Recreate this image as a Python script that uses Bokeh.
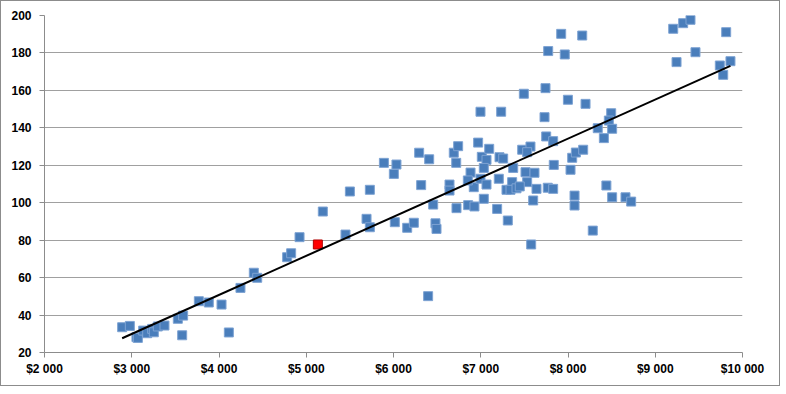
from bokeh.plotting import figure
from bokeh.models import Range1d, FixedTicker, CustomJSTickFormatter, ColumnDataSource
from bokeh.embed import file_html
from bokeh.resources import INLINE

# Income (x, $) and value (y)
income = [2890, 2978, 3054, 3070, 3131, 3177, 3234, 3253, 3299, 3375,
          3528, 3589, 3578, 3769, 3883, 4029, 4113, 4246, 4399, 4438,
          4781, 4827, 4923, 5190, 5450, 5500, 5691, 5729, 5729, 5890,
          6004, 6034, 6015, 6157, 6233, 6294, 6317, 6409, 6397, 6455,
          6481, 6493, 6642, 6642, 6691, 6741, 6719, 6722, 6856, 6928,
          6883, 6920, 6970, 7012, 7742, 7494, 7999, 6997, 7234, 7731,
          7750, 7830, 7097, 7066, 7035, 6852, 6997, 7066, 7207, 7215,
          7257, 7372, 7475, 7570, 7532, 7513, 7616, 7837, 7532, 7295,
          7360, 7341, 7410, 7447, 7639, 7768, 7830, 7601, 7035, 7188,
          7310, 7578, 8029, 8048, 8090, 8075, 8075, 8201, 8495, 8468,
          8341, 8506, 8411, 8174, 8440, 8506, 8659, 8724, 8284, 9244,
          9740, 9779, 9862, 9206, 9320, 9404, 9813, 9461, 7922, 8163,
          7773, 7963]
value = [33.5, 34.2, 28.2, 27.8, 31.7, 30.3, 32.6, 30.8, 33.9, 34.4,
         38.0, 39.7, 29.2, 47.4, 46.7, 45.6, 30.7, 54.5, 62.6, 59.9,
         70.9, 73.0, 81.6, 95.3, 83.0, 106.0, 91.4, 86.9, 106.9, 121.3,
         115.4, 120.4, 89.6, 86.6, 89.3, 126.7, 109.4, 123.2, 50.1, 99.0,
         89.0, 86.0, 109.7, 106.5, 126.7, 130.2, 121.3, 97.1, 98.7, 98.0,
         116.1, 108.3, 132.1, 124.5, 161.2, 158.2, 155.0, 148.6, 148.6, 145.7,
         135.4, 132.9, 128.8, 122.9, 118.6, 111.9, 112.8, 109.7, 112.8, 124.3,
         123.6, 118.6, 128.3, 130.0, 127.0, 116.3, 116.0, 120.2, 111.0, 106.9,
         111.0, 106.9, 107.7, 108.7, 107.4, 108.0, 107.4, 101.2, 102.1, 96.7,
         90.5, 77.7, 117.6, 124.0, 126.8, 103.8, 98.5, 152.8, 147.8, 143.9,
         139.8, 139.5, 134.5, 128.3, 109.2, 102.9, 102.9, 100.6, 85.1, 175.1,
         173.3, 168.3, 175.6, 192.9, 195.9, 197.7, 191.1, 180.4, 190.2, 189.3,
         181.0, 179.2]

highlight_income = [5133]
highlight_value = [77.7]

trend_income = [2890, 9862]
trend_value = [27.6, 173.1]

x_ticks = [2000, 3000, 4000, 5000, 6000, 7000, 8000, 9000, 10000]
y_ticks = [20, 40, 60, 80, 100, 120, 140, 160, 180, 200]

p = figure(width=780, height=386, output_backend="svg", toolbar_location=None,
           x_range=Range1d(2000, 10000), y_range=Range1d(20, 200),
           min_border_left=43, min_border_right=39, min_border_top=14,
           min_border_bottom=35)
p.styles = {"border": "1px solid #8c8c8c"}
p.outline_line_color = None
p.background_fill_color = "white"
p.border_fill_color = "white"

p.xgrid.grid_line_color = None
p.ygrid.grid_line_color = "#a0a0a0"
p.ygrid.grid_line_width = 1

for ax in (p.xaxis[0], p.yaxis[0]):
    ax.axis_line_color = "#8c8c8c"
    ax.major_tick_line_color = "#8c8c8c"
    ax.minor_tick_line_color = None
    ax.major_tick_in = 0
    ax.major_tick_out = 5
    ax.major_label_text_font = "Liberation Sans"
    ax.major_label_text_font_style = "bold"
    ax.major_label_text_font_size = "12px"
    ax.major_label_text_color = "black"

p.xaxis.ticker = FixedTicker(ticks=x_ticks)
p.yaxis.ticker = FixedTicker(ticks=y_ticks)
p.xaxis.major_label_standoff = 4
p.yaxis.major_label_standoff = 8
p.xaxis.formatter = CustomJSTickFormatter(code="""
    return '$' + tick.toFixed(0).replace(/\\B(?=(\\d{3})+(?!\\d))/g, ' ');
""")

src = ColumnDataSource(dict(x=income, y=value))
p.scatter("x", "y", source=src, marker="square", size=9,
          fill_color="#4a7ebb", line_color="#7ea3d3", line_width=1)
p.scatter(highlight_income, highlight_value, marker="square", size=9,
          fill_color="#ff0000", line_color="#b00000", line_width=1)
p.line(trend_income, trend_value, line_color="black", line_width=2)

open("out.html", "w").write(file_html(p, INLINE))
